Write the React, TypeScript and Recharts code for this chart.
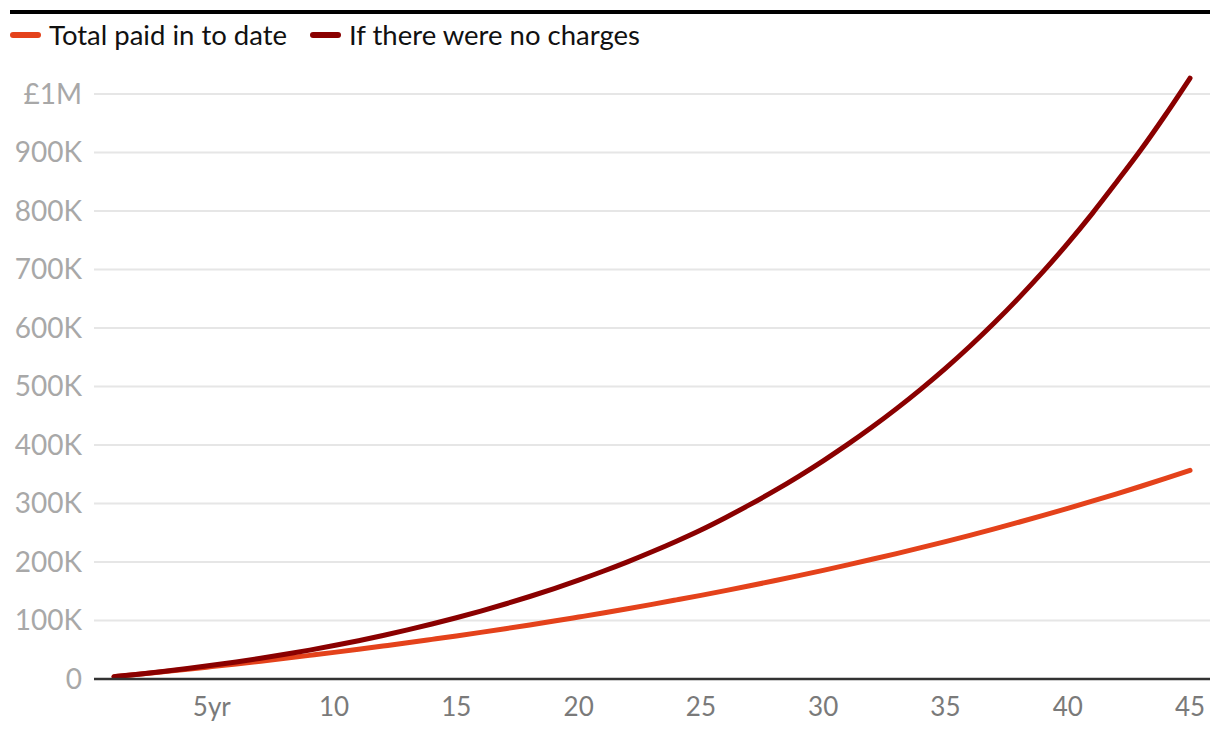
import { LineChart, Line, XAxis, YAxis, ReferenceLine } from 'recharts'

const YEARS = [
  1, 2, 3, 4, 5, 6, 7, 8, 9, 10, 11, 12, 13, 14, 15, 16, 17, 18, 19, 20, 21, 22, 23,
  24, 25, 26, 27, 28, 29, 30, 31, 32, 33, 34, 35, 36, 37, 38, 39, 40, 41, 42, 43, 44, 45,
]

// thousands of pounds
const PAID_IN = [
  4.0, 8.1, 12.4, 16.7, 21.2, 25.8, 30.5, 35.4, 40.4, 45.5, 50.8, 56.3, 61.9, 67.7, 73.6,
  79.7, 86.0, 92.4, 99.0, 105.9, 112.9, 120.1, 127.5, 135.2, 143.0, 151.1, 159.4, 167.9,
  176.7, 185.7, 195.0, 204.6, 214.4, 224.5, 234.9, 245.6, 256.6, 268.0, 279.6, 291.6,
  303.9, 316.5, 329.5, 342.9, 356.7,
]

const NO_CHARGES = [
  4.0, 8.3, 13.0, 18.0, 23.4, 29.2, 35.5, 42.2, 49.4, 57.2, 65.5, 74.4, 83.9, 94.0, 104.7,
  116.1, 128.2, 141.0, 154.6, 169.0, 184.2, 200.3, 217.5, 235.6, 254.8, 275.8, 298.0,
  321.5, 346.5, 373.0, 401.0, 430.7, 462.2, 495.6, 531.0, 568.8, 608.9, 651.5, 696.7,
  744.7, 795.6, 849.6, 905.0, 964.5, 1027.0,
]

const Y_TICKS = [0, 100000, 200000, 300000, 400000, 500000, 600000, 700000, 800000, 900000, 1000000]
const X_TICKS = [5, 10, 15, 20, 25, 30, 35, 40, 45]

const SERIES = [
  { key: 'paid', label: 'Total paid in to date', color: '#e4421b' },
  { key: 'full', label: 'If there were no charges', color: '#8a0000' },
]

const FONT = 'Lato, "Noto Sans", sans-serif'

const data = YEARS.map((year, i) => ({
  year,
  paid: PAID_IN[i] * 1000,
  full: NO_CHARGES[i] * 1000,
}))

const formatY = (v: number) => {
  if (v === 0) return '0'
  if (v >= 1000000) return '£1M'
  return `${v / 1000}K`
}

const formatX = (v: number) => (v === 5 ? '5yr' : String(v))

export default function App() {
  return (
    <div style={{ position: 'relative', width: 1204, height: 728, fontFamily: FONT }}>
      <div
        style={{
          position: 'absolute',
          left: 2,
          top: 2,
          width: 1200,
          height: 4,
          background: '#000',
        }}
      />
      <div
        style={{
          position: 'absolute',
          left: 2,
          top: 10,
          display: 'flex',
          alignItems: 'center',
          gap: 23,
          fontSize: 27.5,
          color: '#111',
          lineHeight: '34px',
        }}
      >
        {SERIES.map((s) => (
          <div key={s.key} style={{ display: 'flex', alignItems: 'center', gap: 8 }}>
            <span
              style={{
                display: 'inline-block',
                width: 31,
                height: 6,
                borderRadius: 3,
                background: s.color,
              }}
            />
            <span>{s.label}</span>
          </div>
        ))}
      </div>
      <div style={{ position: 'absolute', left: 0, top: 0 }}>
        <LineChart
          width={1204}
          height={728}
          data={data}
          margin={{ top: 56.75, right: 2, bottom: 17, left: 0 }}
        >
          {Y_TICKS.filter((t) => t > 0).map((t) => (
            <ReferenceLine key={t} y={t} stroke="#e6e6e6" strokeWidth={2} />
          ))}
          <XAxis
            dataKey="year"
            type="number"
            domain={[1, 45]}
            ticks={X_TICKS}
            padding={{ left: 20, right: 20 }}
            tickFormatter={formatX}
            tickLine={false}
            tickSize={0}
            tickMargin={19}
            height={40}
            axisLine={{ stroke: '#333', strokeWidth: 2.5 }}
            tick={{ fill: '#7a7a7a', fontSize: 26, fontFamily: FONT }}
          />
          <YAxis
            type="number"
            domain={[0, 1050000]}
            ticks={Y_TICKS}
            tickFormatter={formatY}
            width={86}
            tickLine={false}
            tickSize={0}
            tickMargin={12}
            axisLine={false}
            tick={{ fill: '#a8a8a8', fontSize: 28, fontFamily: FONT }}
          />
          {SERIES.map((s) => (
            <Line
              key={s.key}
              dataKey={s.key}
              type="monotone"
              stroke={s.color}
              strokeWidth={5}
              strokeLinecap="round"
              dot={false}
              activeDot={false}
              isAnimationActive={false}
            />
          ))}
        </LineChart>
      </div>
    </div>
  )
}
